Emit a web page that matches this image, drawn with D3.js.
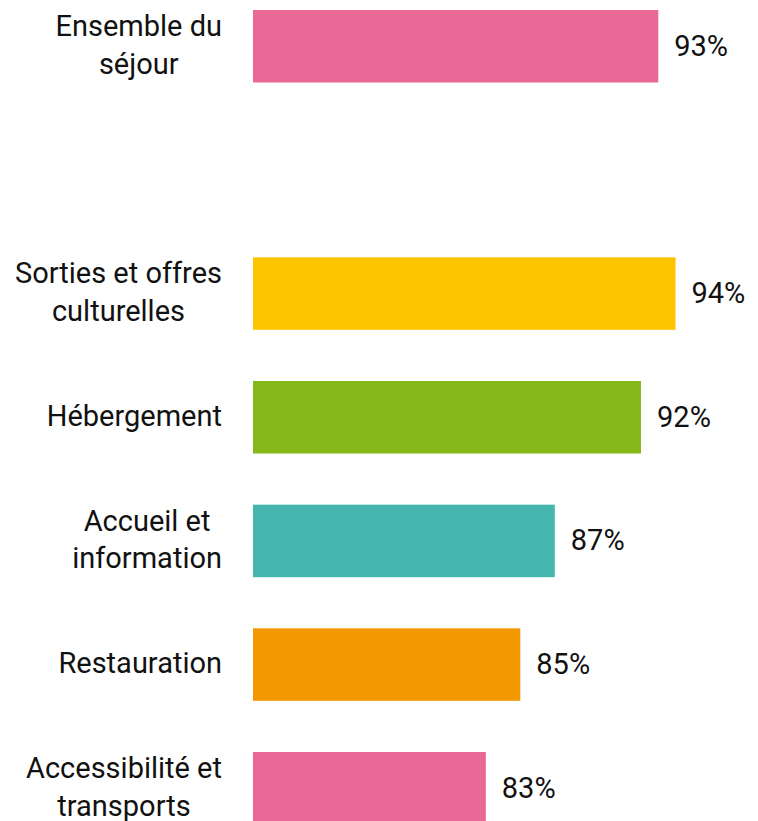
<!DOCTYPE html>
<html>
<head>
<meta charset="utf-8">
<script src="https://cdn.jsdelivr.net/npm/d3@7"></script>
<style>
  html, body { margin: 0; padding: 0; background: #fff; }
  svg { display: block; }
  text { font-family: "Roboto", sans-serif; fill: #111; }
</style>
</head>
<body>
<script>
// Satisfaction par thème (%)
const categories = [
  ["Ensemble du", "séjour"],
  null, // espace entre la synthèse et le détail
  ["Sorties et offres", "culturelles"],
  ["Hébergement"],
  ["Accueil et", "information"],
  ["Restauration"],
  ["Accessibilité et", "transports"]
];
const values = [93, null, 94, 92, 87, 85, 83];
const colors = ["#EA6895", null, "#FCC500", "#86B81C", "#45B6AD", "#F39800", "#EA6895"];

const W = 758, H = 821;
const svg = d3.select("body").append("svg").attr("width", W).attr("height", H);

const rows = categories.map((c, i) => ({ i, lines: c, value: values[i], color: colors[i] }));

const y = d3.scaleBand()
  .domain(rows.map(d => d.i))
  .range([10, 824.5])
  .paddingInner(0.4137)
  .paddingOuter(0);

const x = d3.scaleLinear().domain([69.5, 100]).range([253, 779]);

const data = rows.filter(d => d.value != null);
const fs = 29, lh = 37.7, right = 222, base = 8.7;

svg.selectAll("rect.bar").data(data).join("rect")
  .attr("class", "bar")
  .attr("x", x(x.domain()[0]))
  .attr("y", d => y(d.i))
  .attr("width", d => x(d.value) - x(x.domain()[0]))
  .attr("height", y.bandwidth())
  .attr("fill", d => d.color);

// value labels
svg.selectAll("text.val").data(data).join("text")
  .attr("class", "val")
  .attr("x", d => x(d.value) + 16)
  .attr("y", d => y(d.i) + y.bandwidth() / 2 + 9.5)
  .style("font-size", fs + "px")
  .text(d => d.value + "%");

// category labels: lines centred on each other, block right-aligned
const g = svg.selectAll("text.cat").data(data).join("text")
  .attr("class", "cat")
  .style("font-size", fs + "px")
  .attr("text-anchor", "middle");

g.each(function(d) {
  const t = d3.select(this);
  const n = d.lines.length;
  const cy = y(d.i) + y.bandwidth() / 2;
  d.lines.forEach((line, k) => {
    t.append("tspan")
      .attr("y", cy + base + (k - (n - 1) / 2) * lh)
      .text(line);
  });
  let maxW = 0;
  t.selectAll("tspan").each(function() { maxW = Math.max(maxW, this.getComputedTextLength()); });
  t.selectAll("tspan").attr("x", right - maxW / 2);
});
</script>
</body>
</html>
